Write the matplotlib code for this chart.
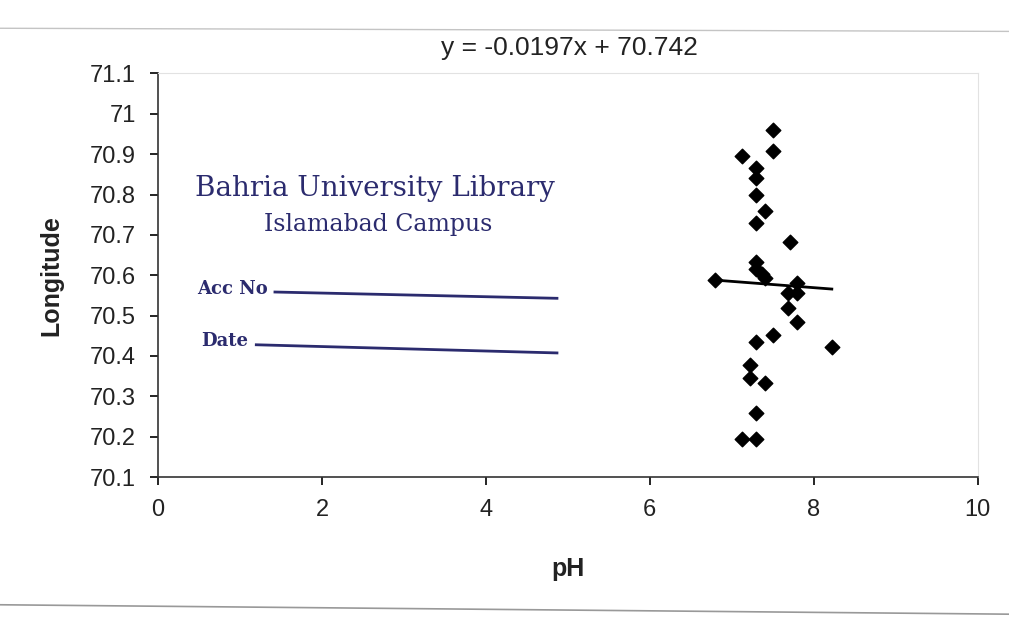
import matplotlib.pyplot as plt
import numpy as np

ph = [7.50, 7.12, 7.50, 7.30, 7.30, 7.30, 7.40, 7.30, 7.71, 7.29, 7.30, 7.37,
      6.80, 7.40, 7.79, 7.68, 7.80, 7.68, 7.80, 7.50, 7.30, 8.22, 7.22, 7.22,
      7.40, 7.30, 7.12, 7.30]
longitude = [70.960, 70.896, 70.907, 70.867, 70.842, 70.800, 70.760, 70.730, 70.683, 70.633, 70.616, 70.604,
             70.589, 70.592, 70.581, 70.556, 70.557, 70.519, 70.485, 70.453, 70.435, 70.422, 70.377, 70.345,
             70.334, 70.259, 70.193, 70.194]
equation = "y = -0.0197x + 70.742"
xticks = [0, 2, 4, 6, 8, 10]
yticks = [70.1, 70.2, 70.3, 70.4, 70.5, 70.6, 70.7, 70.8, 70.9, 71.0, 71.1]
ytick_labels = ["70.1", "70.2", "70.3", "70.4", "70.5", "70.6", "70.7", "70.8", "70.9", "71", "71.1"]

plt.rcParams['font.family'] = ['Liberation Sans', 'DejaVu Sans']

fig = plt.figure(figsize=(10.09, 6.28), dpi=100)
ax = fig.add_axes([0.1566, 0.2404, 0.8124, 0.6426])

ax.scatter(ph, longitude, marker='D', s=55, color='black', zorder=3)

# linear trendline over the data range
coef = np.polyfit(ph, longitude, 1)
xs = np.array([min(ph), max(ph)])
ax.plot(xs, np.polyval(coef, xs), color='black', lw=2, zorder=2)

ax.set_xlim(0, 10)
ax.set_ylim(70.1, 71.1)
ax.set_xticks(xticks)
ax.set_yticks(yticks)
ax.set_yticklabels(ytick_labels)
ax.tick_params(axis='both', labelsize=17, labelcolor='#222222', length=6, width=1.2, direction='out')
ax.tick_params(axis='x', pad=10)
ax.tick_params(axis='y', pad=10)
for s in ['top', 'right']:
    ax.spines[s].set_color('#e2e2e2')
    ax.spines[s].set_linewidth(0.8)
for s in ['left', 'bottom']:
    ax.spines[s].set_linewidth(1.2)
    ax.spines[s].set_color('#333333')

ax.set_xlabel("pH", fontsize=18, fontweight='bold', color='#222222', labelpad=26)
ax.set_ylabel("Longitude", fontsize=18, fontweight='bold', color='#222222', labelpad=19)
fig.text(0.564, 0.924, equation, fontsize=19, color='#222222', ha='center', va='center')

# library stamp
ink = '#2b2b6e'
fig.text(0.372, 0.700, "Bahria University Library", family='DejaVu Serif',
         fontsize=20, color=ink, ha='center', va='center')
fig.text(0.375, 0.643, "Islamabad Campus", family='DejaVu Serif',
         fontsize=17, color=ink, ha='center', va='center')
fig.text(0.195, 0.540, "Acc No", family='DejaVu Serif', fontweight='bold',
         fontsize=13, color=ink, ha='left', va='center')
fig.text(0.199, 0.457, "Date", family='DejaVu Serif', fontweight='bold',
         fontsize=13, color=ink, ha='left', va='center')
fig.add_artist(plt.Line2D([0.2725, 0.552], [0.535, 0.525], color=ink, lw=2))
fig.add_artist(plt.Line2D([0.254, 0.552], [0.451, 0.438], color=ink, lw=2))

# faint chart-area border from the scan
fig.add_artist(plt.Line2D([0.0, 1.0], [0.955, 0.950], color='#c4c4c4', lw=1))
fig.add_artist(plt.Line2D([0.0, 1.0], [0.037, 0.022], color='#999999', lw=1.2))

fig.savefig("out.png", dpi=100)
